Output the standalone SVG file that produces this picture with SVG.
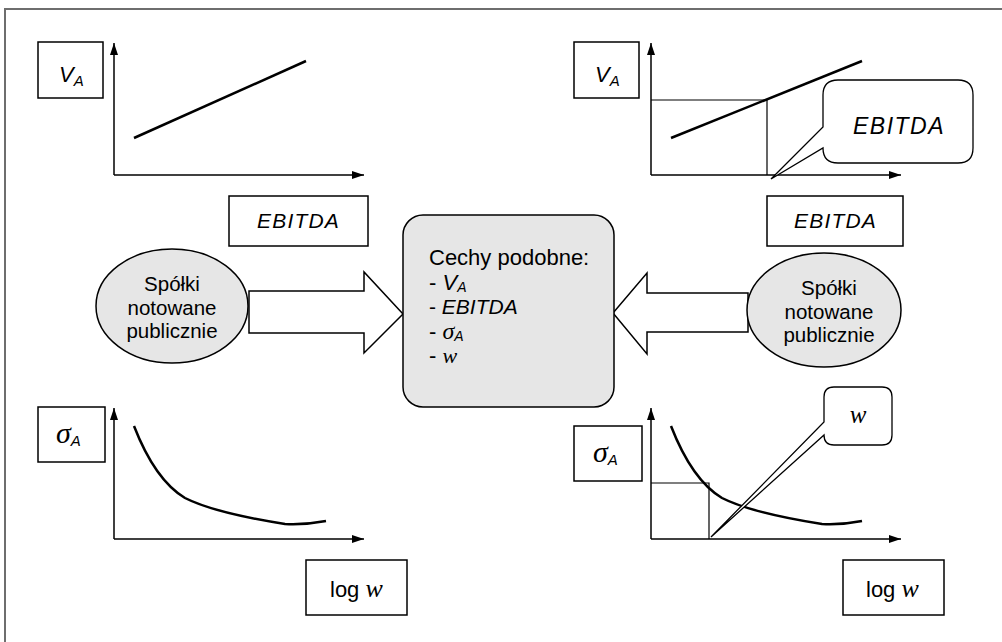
<svg xmlns="http://www.w3.org/2000/svg" width="1002" height="642" viewBox="0 0 1002 642">
<defs>
<marker id="ah" viewBox="0 0 12 8" refX="12" refY="4" markerWidth="12" markerHeight="8" markerUnits="userSpaceOnUse" orient="auto">
<path d="M0,0 L12,4 L0,8 Z" fill="#000"/>
</marker>
<style>
.frame{fill:none;stroke:#6e6e6e;stroke-width:2}
.box{fill:#fff;stroke:#000;stroke-width:1.5}
.axis{fill:none;stroke:#000;stroke-width:1.5;marker-end:url(#ah)}
.data{fill:none;stroke:#000;stroke-width:2.5}
.guide{fill:none;stroke:#000;stroke-width:1.2}
.gray{fill:#e6e6e6;stroke:#000;stroke-width:1.5}
.arrow{fill:#fff;stroke:#000;stroke-width:1.5}
.callout{fill:#fff;stroke:#000;stroke-width:1.3}
.sans{font-family:"Liberation Sans",Arial,sans-serif;fill:#000}
.it{font-style:italic}
.ser{font-family:"Liberation Serif","Times New Roman",serif;font-style:italic;fill:#000}
</style>
</defs>
<rect class="frame" x="5" y="9" width="1010" height="650"/>

<g id="chart-top-left">
<line class="axis" x1="114" y1="175" x2="114" y2="43"/>
<line class="axis" x1="114" y1="175" x2="364" y2="175"/>
<line class="data" x1="134" y1="138" x2="306" y2="61"/>
</g>
<g id="label-va-tl">
<rect class="box" x="38" y="42" width="65" height="56"/>
<text class="sans it" x="59" y="82" font-size="22">V<tspan font-size="15" dy="4">A</tspan></text>
</g>
<g id="label-ebitda-tl">
<rect class="box" x="229" y="196" width="139" height="50"/>
<text class="sans it" x="298.5" y="228" font-size="21" letter-spacing="1.2" text-anchor="middle">EBITDA</text>
</g>

<g id="chart-top-right">
<line class="axis" x1="651" y1="175" x2="651" y2="43"/>
<line class="axis" x1="651" y1="175" x2="901" y2="175"/>
<polyline class="guide" points="651,100 767,100 767,175"/>
<line class="data" x1="671" y1="138" x2="862" y2="61"/>
</g>
<g id="label-va-tr">
<rect class="box" x="574" y="42" width="65" height="56"/>
<text class="sans it" x="595" y="82" font-size="22">V<tspan font-size="15" dy="4">A</tspan></text>
</g>
<g id="callout-ebitda">
<path class="callout" d="M838,80 H958 Q973,80 973,95 V148 Q973,163 958,163 H838 Q823,163 823,148 L771,179 L823,127 V95 Q823,80 838,80 Z"/>
<text class="sans it" x="899" y="134" font-size="23" letter-spacing="1.5" text-anchor="middle">EBITDA</text>
</g>
<g id="label-ebitda-tr">
<rect class="box" x="767" y="196" width="136" height="50"/>
<text class="sans it" x="835.5" y="228" font-size="21" letter-spacing="1.2" text-anchor="middle">EBITDA</text>
</g>

<g id="connectors">
<polygon class="arrow" points="249,291 364,291 364,272 403,314 364,353 364,333 249,333"/>
<polygon class="arrow" points="748,293 647,293 647,273 613,313 647,354 647,332 748,332"/>
</g>

<g id="ellipse-left">
<ellipse class="gray" cx="172" cy="306" rx="76" ry="57"/>
<text class="sans" font-size="20.5" text-anchor="middle"><tspan x="172" y="291">Spółki</tspan><tspan x="172" y="315">notowane</tspan><tspan x="172" y="338">publicznie</tspan></text>
</g>

<g id="center-box">
<rect class="gray" x="403" y="215" width="211" height="192" rx="20"/>
<text class="sans" x="429" y="265" font-size="22">Cechy podobne:</text>
<text class="sans" x="429" y="289.5" font-size="22">- <tspan class="it">V</tspan><tspan class="it" font-size="14" dy="2">A</tspan></text>
<text class="sans" x="429" y="314" font-size="21">- <tspan class="it">EBITDA</tspan></text>
<text class="sans" x="429" y="338.5" font-size="22">- <tspan class="ser" font-size="24">σ</tspan><tspan class="it" font-size="14" dy="2">A</tspan></text>
<text class="sans" x="429" y="363" font-size="22">- <tspan class="ser" font-size="22">w</tspan></text>
</g>

<g id="ellipse-right">
<ellipse class="gray" cx="824" cy="310" rx="77" ry="57"/>
<text class="sans" font-size="20.5" text-anchor="middle"><tspan x="829" y="295">Spółki</tspan><tspan x="829" y="319">notowane</tspan><tspan x="829" y="342">publicznie</tspan></text>
</g>

<g id="chart-bottom-left">
<line class="axis" x1="114" y1="539" x2="114" y2="408"/>
<line class="axis" x1="114" y1="539" x2="364" y2="539"/>
<path class="data" d="M134,426 Q155,480 185,498 Q215,513 285,524 Q305,525 326,521"/>
</g>
<g id="label-sigma-bl">
<rect class="box" x="38" y="407" width="67" height="55"/>
<text class="ser" x="56" y="443" font-size="30">σ<tspan class="sans it" font-size="15" dy="3">A</tspan></text>
</g>
<g id="label-logw-bl">
<rect class="box" x="306" y="560" width="101" height="55"/>
<text class="sans" x="330" y="597" font-size="22">log <tspan class="ser" font-size="26">w</tspan></text>
</g>

<g id="chart-bottom-right">
<line class="axis" x1="651" y1="539" x2="651" y2="408"/>
<line class="axis" x1="651" y1="539" x2="901" y2="539"/>
<polyline class="guide" points="651,483 709,483 709,539"/>
<path class="data" d="M671,426 Q692,480 722,498 Q752,513 822,524 Q842,525 862,521"/>
</g>
<g id="label-sigma-br">
<rect class="box" x="574" y="426" width="68" height="55"/>
<text class="ser" x="593" y="462" font-size="30">σ<tspan class="sans it" font-size="15" dy="3">A</tspan></text>
</g>
<g id="callout-w">
<path class="callout" d="M834,387 H882 Q892,387 892,397 V435 Q892,445 882,445 H834 Q824,445 824,435 L711,537 L824,422 V397 Q824,387 834,387 Z"/>
<text class="ser" x="858" y="423" font-size="25" text-anchor="middle">w</text>
</g>
<g id="label-logw-br">
<rect class="box" x="843" y="560" width="101" height="55"/>
<text class="sans" x="866" y="597" font-size="22">log <tspan class="ser" font-size="26">w</tspan></text>
</g>
</svg>
